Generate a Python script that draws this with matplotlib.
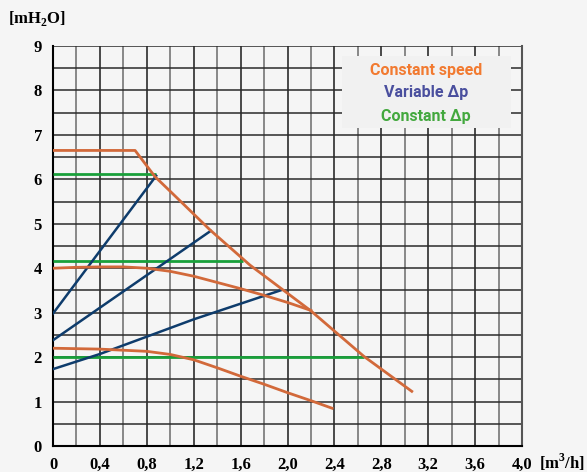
import matplotlib

matplotlib.use("Agg")
import matplotlib.pyplot as plt
import numpy as np

# curvas de velocidade constante (vazão m3/h, altura mH2O)
vel_max_q = [0, 0.7, 0.87, 1.0, 1.34, 1.68, 2.2, 2.65, 3.06]
vel_max_h = [6.65, 6.65, 6.06, 5.73, 4.86, 4.07, 3.04, 2.02, 1.23]
vel_med_q = [0, 0.2, 0.4, 0.6, 0.8, 1.0, 1.2, 1.4, 1.6, 1.8, 2.0, 2.2]
vel_med_h = [4.0, 4.02, 4.03, 4.03, 4.0, 3.93, 3.82, 3.68, 3.54, 3.39, 3.23, 3.05]
vel_min_q = [0, 0.4, 0.8, 1.0, 1.2, 1.4, 1.6, 1.8, 2.0, 2.2, 2.38]
vel_min_h = [2.2, 2.18, 2.13, 2.06, 1.94, 1.76, 1.57, 1.39, 1.20, 1.02, 0.85]

# delta-p variável (retas)
dp_var = [
    ([0, 0.88], [2.98, 6.08]),
    ([0, 1.345], [2.38, 4.84]),
    ([0, 0.4, 1.2, 1.95], [1.73, 2.07, 2.85, 3.51]),
]

# delta-p constante (horizontais)
dp_const_h = [6.13, 4.16, 2.01]
dp_const_fim = [0.88, 1.62, 2.65]

x_ticks = [0, 0.4, 0.8, 1.2, 1.6, 2.0, 2.4, 2.8, 3.2, 3.6, 4.0]
x_rotulos = ["0", "0,4", "0,8", "1,2", "1,6", "2,0", "2,4", "2,8", "3,2", "3,6", "4,0"]
y_ticks = list(range(10))

legenda = ["Constant speed", "Variable Δp", "Constant Δp"]
cores_legenda = ["#f27a30", "#4a4f9e", "#43a83e"]

LARANJA = "#d2693a"
AZUL = "#0e3c6c"
VERDE = "#19a03a"
FUNDO = "#f5f5f5"

plt.rcParams["mathtext.fontset"] = "custom"
plt.rcParams["mathtext.rm"] = "Liberation Serif:bold"

fig = plt.figure(figsize=(5.87, 4.72), dpi=100, facecolor=FUNDO)
ax = fig.add_axes([53 / 587, 1 - 446 / 472, 469 / 587, 400 / 472])
ax.set_facecolor(FUNDO)
ax.set_xlim(0, 4.0)
ax.set_ylim(0, 9)

# grade: verticais a cada 0,2 (alternando cinza/preto), horizontais a cada 0,5
for i, xv in enumerate(np.arange(0.2, 4.0, 0.2)):
    cor = "#6a6a6a" if i % 2 == 0 else "#1a1a1a"
    ax.axvline(xv, color=cor, lw=1.1, zorder=1)
for yv in np.arange(0.5, 9.01, 0.5):
    ax.axhline(yv, color="#2a2a2a", lw=1.1, zorder=1)

ax.spines["top"].set_visible(False)
ax.spines["right"].set_color("#555555")
ax.spines["right"].set_linewidth(1.5)
ax.spines["left"].set_linewidth(1.5)
ax.spines["bottom"].set_linewidth(1.5)

# delta-p constante
for h, fim in zip(dp_const_h, dp_const_fim):
    ax.plot([0, fim], [h, h], color=VERDE, lw=2, zorder=3, solid_capstyle="butt")

# delta-p variável
for q, h in dp_var:
    ax.plot(q, h, color=AZUL, lw=1.8, zorder=3)

# velocidade constante
ax.plot(vel_max_q, vel_max_h, color=LARANJA, lw=2, zorder=4)
ax.plot(vel_med_q, vel_med_h, color=LARANJA, lw=2, zorder=4)
ax.plot(vel_min_q, vel_min_h, color=LARANJA, lw=2, zorder=4)

ax.set_xticks(x_ticks)
ax.set_xticklabels(x_rotulos)
ax.set_yticks(y_ticks)
ax.tick_params(length=0, pad=8)
for t in ax.get_xticklabels() + ax.get_yticklabels():
    t.set_fontfamily("Liberation Serif")
    t.set_fontweight("bold")
    t.set_fontsize(12)

fig.text(8 / 587, 1 - 18 / 472, r"[mH$_\mathrm{2}$O]", family="Liberation Serif",
         weight="bold", fontsize=12, va="center", ha="left")
fig.text(585 / 587, 1 - 462 / 472, r"[m$^\mathrm{3}$/h]", family="Liberation Serif",
         weight="bold", fontsize=12, va="center", ha="right")

# caixa da legenda
caixa = plt.Rectangle((342 / 587, 1 - 128 / 472), 169 / 587, 72 / 472,
                      transform=fig.transFigure, facecolor="#f1f1f1",
                      edgecolor="none", zorder=5)
fig.add_artist(caixa)
for i, (txt, cor) in enumerate(zip(legenda, cores_legenda)):
    fig.text(426 / 587, 1 - (70 + 23 * i) / 472, txt, color=cor, family="Roboto",
             weight="bold", fontsize=11.5, ha="center", va="center", zorder=6)

fig.savefig("out.png", dpi=100, facecolor=FUNDO)
